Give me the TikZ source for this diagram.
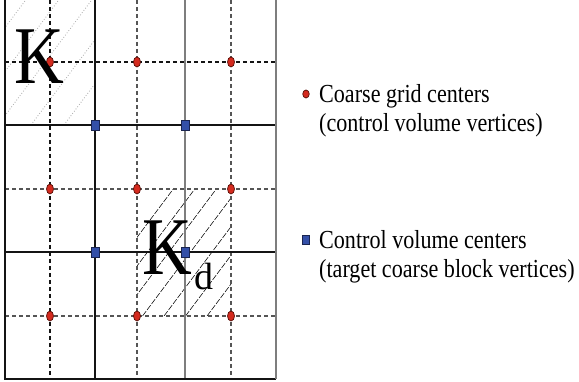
\documentclass[tikz,border=0pt]{standalone}
\usepackage{fontspec}
\setmainfont{Liberation Serif}
\usepackage{graphicx}
\usetikzlibrary{positioning,shapes.geometric}
\definecolor{cgRed}{HTML}{D42A1E}
\definecolor{cgRedLine}{HTML}{5A0E06}
\definecolor{cvBlue}{HTML}{3450A8}
\definecolor{cvBlueLine}{HTML}{1A2550}
\definecolor{cgInk}{HTML}{141414}
\definecolor{cgGray}{HTML}{7E7E7E}
\definecolor{cgDashGray}{HTML}{555555}
\newcommand{\legendblock}[2]{\scalebox{0.85}[1]{\fontsize{26}{29}\selectfont\begin{tabular}[t]{@{}l@{}}#1\\#2\end{tabular}}}
\tikzset{
  cgdot/.style={ellipse,draw=cgRedLine,fill=cgRed,line width=0.7pt,minimum width=7pt,minimum height=10pt,inner sep=0pt},
  cvsq/.style={rectangle,draw=cvBlueLine,fill=cvBlue,line width=0.7pt,minimum width=8pt,minimum height=10pt,inner sep=0pt},
  cgsolid/.style={draw=cgInk,line width=1.3pt},
  cgsolidgray/.style={draw=cgGray,line width=1.4pt},
  cgdash/.style={draw=cgInk,line width=1.3pt,dash pattern=on 4pt off 3pt},
  cgdashgray/.style={draw=cgDashGray,line width=1.3pt,dash pattern=on 4pt off 3pt},
  hatchk/.style={draw=gray!70,line width=0.8pt,dotted},
  hatchkd/.style={draw=cgInk,line width=0.6pt,dash pattern=on 6pt off 1.5pt},
  bigletter/.style={anchor=base west,inner sep=0pt,text=black},
  legendtxt/.style={anchor=base west,inner sep=0pt,text=black}
}

\begin{document}
\begin{tikzpicture}[x=1pt,y=-1pt]
\useasboundingbox (0,0) rectangle (579,382);

% ---- HATCHED BLOCKS K AND K_d ----
\begin{scope}
  \clip (5,0) rectangle (95,125);
  \foreach \s in {-68,-35,-2,31,64}
    \draw[hatchk] (\s,125) -- ++(150,-200);
\end{scope}
\begin{scope}
  \clip (137,189) rectangle (231,316);
  \foreach \s in {78,99.5,121,142.5,164,185.5,207,228.5}
    \draw[hatchkd] (\s,316) -- ++(150,-200);
\end{scope}

% ---- DUAL (DASHED) GRID ----
\draw[cgdash] (50,0) -- (50,379);
\draw[cgdash] (5,62) -- (276,62);
\foreach \x in {137,231}
  \draw[cgdashgray] (\x,0) -- (\x,379);
\foreach \y in {189,316}
  \draw[cgdashgray] (5,\y) -- (276,\y);

% ---- COARSE (SOLID) GRID ----
\draw[cgsolid] (95,0) -- (95,379);
\draw[cgsolidgray] (185,0) -- (185,379);
\foreach \y in {125,252}
  \draw[cgsolid] (5,\y) -- (276,\y);
\draw[cgsolid] (5,0) -- (5,379) -- (276,379);
\draw[cgsolidgray] (276,379) -- (276,0);

% ---- VERTICES ----
\foreach \x in {50,137,231}
  \foreach \y in {62,189,316}
    \node[cgdot] (cg-\x-\y) at (\x,\y) {};
\foreach \x in {95,185}
  \foreach \y in {125,252}
    \node[cvsq] (cv-\x-\y) at (\x,\y) {};

% ---- BLOCK LABELS ----
\node[bigletter] (lblk) at (14,84) {\scalebox{0.84}[1]{\fontsize{82}{82}\selectfont K}};
\node[bigletter] (lblkd) at (142,275) {\scalebox{0.84}[1]{\fontsize{82}{82}\selectfont K}\hspace{3pt}\raisebox{-15pt}{\fontsize{38}{38}\selectfont d}};

% ---- LEGEND ----
\node[cgdot,minimum width=6.5pt,minimum height=8pt] (lgcg) at (306,94) {};
\node[legendtxt] (lgcgtxt) at (319,103) {\legendblock{Coarse grid centers}{(control volume vertices)}};
\node[cvsq,minimum width=7.5pt,minimum height=8.5pt] (lgcv) at (306,240) {};
\node[legendtxt] (lgcvtxt) at (319,249) {\legendblock{Control volume centers}{(target coarse block vertices)}};

\end{tikzpicture}
\end{document}
